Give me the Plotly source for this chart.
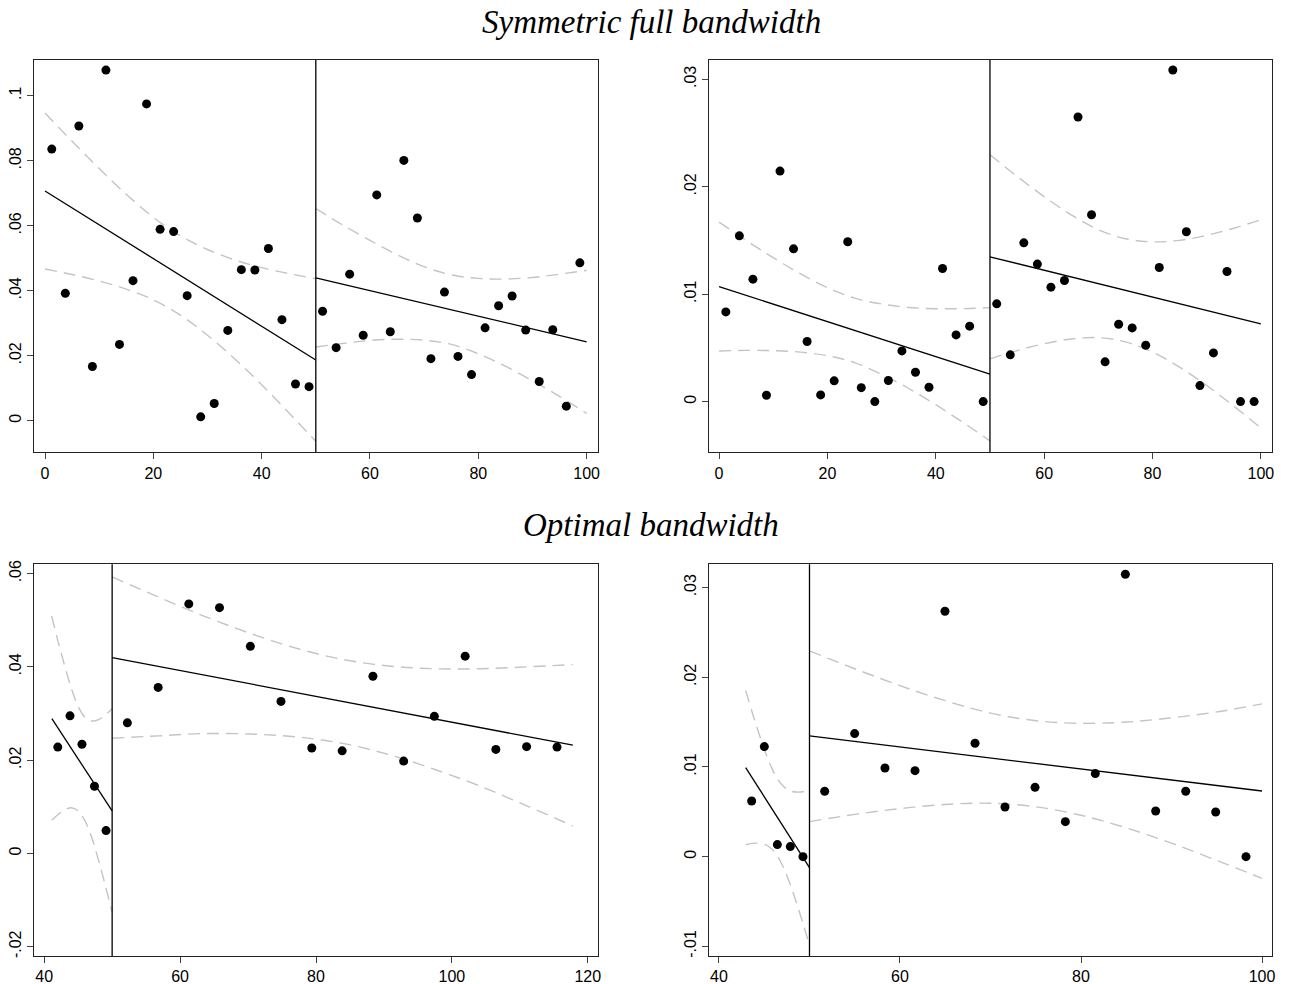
import plotly.graph_objects as go

W, H = 1289, 984

# ---------------- Top-left panel (Symmetric full bandwidth, outcome A) ----------------
tl_x_left = [1.25, 3.75, 6.25, 8.75, 11.25, 13.75, 16.25, 18.75, 21.25, 23.75,
             26.25, 28.75, 31.25, 33.75, 36.25, 38.75, 41.25, 43.75, 46.25, 48.75]
tl_y_left = [0.0836, 0.0392, 0.0907, 0.0167, 0.1079, 0.0235, 0.0431, 0.0975, 0.0589, 0.0582,
             0.0385, 0.0012, 0.0053, 0.0278, 0.0465, 0.0464, 0.0530, 0.0311, 0.0113, 0.0105]
tl_x_right = [51.25, 53.75, 56.25, 58.75, 61.25, 63.75, 66.25, 68.75, 71.25, 73.75,
              76.25, 78.75, 81.25, 83.75, 86.25, 88.75, 91.25, 93.75, 96.25, 98.75]
tl_y_right = [0.0337, 0.0225, 0.0451, 0.0263, 0.0695, 0.0274, 0.0801, 0.0624, 0.0191, 0.0396,
              0.0198, 0.0142, 0.0286, 0.0354, 0.0384, 0.0279, 0.0121, 0.0280, 0.0045, 0.0486]
tl_fit_x_left = [0, 50]
tl_fit_y_left = [0.0707, 0.0187]
tl_fit_x_right = [50, 100]
tl_fit_y_right = [0.0440, 0.0243]
tl_ci_x_left = [0, 5, 10, 15, 20, 25, 30, 35, 40, 45, 50]
tl_ci_up_left = [0.0947, 0.0860, 0.0776, 0.0697, 0.0626, 0.0569, 0.0527, 0.0495, 0.0471, 0.0453, 0.0437]
tl_ci_lo_left = [0.0467, 0.0450, 0.0430, 0.0405, 0.0372, 0.0325, 0.0263, 0.0191, 0.0111, 0.0025, -0.0063]
tl_ci_x_right = [50, 55, 60, 65, 70, 75, 80, 85, 90, 95, 100]
tl_ci_up_right = [0.0653, 0.0602, 0.0555, 0.0511, 0.0474, 0.0449, 0.0438, 0.0436, 0.0441, 0.0451, 0.0463]
tl_ci_lo_right = [0.0227, 0.0238, 0.0247, 0.0251, 0.0248, 0.0235, 0.0206, 0.0168, 0.0123, 0.0075, 0.0023]
tl_xticks = [0, 20, 40, 60, 80, 100]
tl_yticks = [0, 0.02, 0.04, 0.06, 0.08, 0.1]
tl_yticklabels = ["0", ".02", ".04", ".06", ".08", ".1"]

# ---------------- Top-right panel (Symmetric full bandwidth, outcome B) ----------------
tr_x_left = tl_x_left
tr_y_left = [0.00835, 0.01543, 0.0114, 0.00059, 0.02146, 0.01422, 0.00559, 0.00062, 0.00193, 0.01488,
             0.0013, 0.0, 0.00196, 0.00472, 0.00273, 0.00134, 0.01239, 0.00621, 0.00702, 0.0]
tr_x_right = tl_x_right
tr_y_right = [0.0091, 0.00435, 0.01478, 0.0128, 0.01065, 0.01127, 0.02649, 0.01739, 0.0037, 0.0072,
              0.00686, 0.00525, 0.01248, 0.03087, 0.01581, 0.00149, 0.00453, 0.01211, 0.0, 0.0]
tr_fit_x_left = [0, 50]
tr_fit_y_left = [0.01071, 0.00255]
tr_fit_x_right = [50, 100]
tr_fit_y_right = [0.01348, 0.00724]
tr_ci_x_left = [0, 5, 10, 15, 20, 25, 30, 35, 40, 45, 50]
tr_ci_up_left = [0.01671, 0.01501, 0.0134, 0.01191, 0.01061, 0.00963, 0.00909, 0.00876, 0.00865, 0.00865, 0.00875]
tr_ci_lo_left = [0.00471, 0.00477, 0.00474, 0.00461, 0.00427, 0.00363, 0.00253, 0.00122, -0.00029, -0.00193, -0.00365]
tr_ci_x_right = [50, 55, 60, 65, 70, 75, 80, 85, 90, 95, 100]
tr_ci_up_right = [0.02298, 0.02097, 0.01908, 0.01739, 0.01601, 0.01516, 0.01487, 0.01501, 0.01548, 0.01614, 0.01694]
tr_ci_lo_right = [0.00398, 0.00475, 0.00538, 0.00583, 0.00595, 0.00556, 0.00461, 0.00321, 0.0015, -0.00042, -0.00246]
tr_xticks = [0, 20, 40, 60, 80, 100]
tr_yticks = [0, 0.01, 0.02, 0.03]
tr_yticklabels = ["0", ".01", ".02", ".03"]

# ---------------- Bottom-left panel (Optimal bandwidth, outcome A) ----------------
bl_x_left = [42.0, 43.8, 45.56, 47.4, 49.1]
bl_y_left = [0.0228, 0.0295, 0.0234, 0.0144, 0.0049]
bl_x_right = [52.24, 56.77, 61.28, 65.8, 70.34, 74.85, 79.38, 83.85, 88.38, 92.9,
              97.42, 101.95, 106.47, 110.99, 115.47]
bl_y_right = [0.0280, 0.0356, 0.0535, 0.0527, 0.0444, 0.0326, 0.0226, 0.0220, 0.0380, 0.0198,
              0.0294, 0.0423, 0.0223, 0.0229, 0.0228]
bl_fit_x_left = [41.13, 50]
bl_fit_y_left = [0.0289, 0.0091]
bl_fit_x_right = [50, 117.8]
bl_fit_y_right = [0.0420, 0.0232]
bl_ci_x_left = [41.1, 42, 43, 44, 45, 46, 47, 48, 49, 50]
bl_ci_up_left = [0.0509, 0.0457, 0.0403, 0.0354, 0.0315, 0.0292, 0.0284, 0.0287, 0.0297, 0.0310]
bl_ci_lo_left = [0.0071, 0.0083, 0.0093, 0.0098, 0.0091, 0.0070, 0.0034, -0.0015, -0.0069, -0.0126]
bl_ci_x_right = [50, 56.8, 63.5, 70.3, 77.1, 83.9, 90.7, 97.5, 104.2, 111, 117.8]
bl_ci_up_right = [0.0593, 0.0550, 0.0509, 0.0472, 0.0440, 0.0416, 0.0402, 0.0396, 0.0396, 0.0400, 0.0405]
bl_ci_lo_right = [0.0247, 0.0252, 0.0257, 0.0256, 0.0250, 0.0236, 0.0212, 0.0180, 0.0144, 0.0102, 0.0059]
bl_xticks = [40, 60, 80, 100, 120]
bl_yticks = [-0.02, 0, 0.02, 0.04, 0.06]
bl_yticklabels = ["-.02", "0", ".02", ".04", ".06"]

# ---------------- Bottom-right panel (Optimal bandwidth, outcome B) ----------------
br_x_left = [43.61, 45.01, 46.45, 47.88, 49.28]
br_y_left = [0.00621, 0.01227, 0.00134, 0.00112, 0.0]
br_x_right = [51.68, 54.99, 58.34, 61.66, 64.97, 68.29, 71.6, 74.92, 78.27, 81.58,
              84.9, 88.25, 91.57, 94.88, 98.23]
br_y_right = [0.00729, 0.01372, 0.00989, 0.00959, 0.02736, 0.01264, 0.00554, 0.00773, 0.0039, 0.00926,
              0.03149, 0.00509, 0.00729, 0.00498, 0.0]
br_fit_x_left = [42.95, 50]
br_fit_y_left = [0.00993, -0.00123]
br_fit_x_right = [50, 100]
br_fit_y_right = [0.01346, 0.00732]
br_ci_x_left = [42.95, 43.65, 44.36, 45.06, 45.77, 46.47, 47.17, 47.88, 48.58, 49.28, 49.98]
br_ci_up_left = [0.01853, 0.01616, 0.0139, 0.01182, 0.01001, 0.00865, 0.00779, 0.00734, 0.0072, 0.00723, 0.00737]
br_ci_lo_left = [0.00133, 0.00148, 0.0015, 0.00136, 0.00091, 0.00005, -0.00131, -0.00312, -0.0052, -0.00745, -0.00983]
br_ci_x_right = [50, 55, 60, 65, 70, 75, 80, 85, 90, 95, 100]
br_ci_up_right = [0.02294, 0.02095, 0.01907, 0.01739, 0.01601, 0.01516, 0.01487, 0.01501, 0.01548, 0.01614, 0.01703]
br_ci_lo_right = [0.0039, 0.00471, 0.00536, 0.00582, 0.00595, 0.00556, 0.00461, 0.00321, 0.0015, -0.00042, -0.00242]
br_xticks = [40, 60, 80, 100]
br_yticks = [-0.01, 0, 0.01, 0.02, 0.03]
br_yticklabels = ["-.01", "0", ".01", ".02", ".03"]

cutoff = 50
titles = ["Symmetric full bandwidth", "Optimal bandwidth"]

# ---------------- Layout geometry (pixels -> paper) ----------------
def px_x(p):
    return p / W

def px_y(p):
    return 1 - p / H

panels = [
    dict(xdom=[px_x(34), px_x(598)], ydom=[px_y(452.3), px_y(60)],
         xr=[-2.03, 102.1], yr=[-0.0097, 0.111],
         xl=tl_x_left, yl=tl_y_left, xrt=tl_x_right, yrt=tl_y_right,
         fxl=tl_fit_x_left, fyl=tl_fit_y_left, fxr=tl_fit_x_right, fyr=tl_fit_y_right,
         cxl=tl_ci_x_left, cul=tl_ci_up_left, cll=tl_ci_lo_left,
         cxr=tl_ci_x_right, cur=tl_ci_up_right, clr=tl_ci_lo_right,
         xt=tl_xticks, yt=tl_yticks, ytl=tl_yticklabels),
    dict(xdom=[px_x(709.3), px_x(1271.7)], ydom=[px_y(452.3), px_y(60)],
         xr=[-1.8, 102.0], yr=[-0.00472, 0.0318],
         xl=tr_x_left, yl=tr_y_left, xrt=tr_x_right, yrt=tr_y_right,
         fxl=tr_fit_x_left, fyl=tr_fit_y_left, fxr=tr_fit_x_right, fyr=tr_fit_y_right,
         cxl=tr_ci_x_left, cul=tr_ci_up_left, cll=tr_ci_lo_left,
         cxr=tr_ci_x_right, cur=tr_ci_up_right, clr=tr_ci_lo_right,
         xt=tr_xticks, yt=tr_yticks, ytl=tr_yticklabels),
    dict(xdom=[px_x(34), px_x(598)], ydom=[px_y(956), px_y(564.3)],
         xr=[38.5, 121.5], yr=[-0.0220, 0.0620],
         xl=bl_x_left, yl=bl_y_left, xrt=bl_x_right, yrt=bl_y_right,
         fxl=bl_fit_x_left, fyl=bl_fit_y_left, fxr=bl_fit_x_right, fyr=bl_fit_y_right,
         cxl=bl_ci_x_left, cul=bl_ci_up_left, cll=bl_ci_lo_left,
         cxr=bl_ci_x_right, cur=bl_ci_up_right, clr=bl_ci_lo_right,
         xt=bl_xticks, yt=bl_yticks, ytl=bl_yticklabels),
    dict(xdom=[px_x(709.3), px_x(1271.7)], ydom=[px_y(956), px_y(564.3)],
         xr=[38.93, 101.07], yr=[-0.01108, 0.0326],
         xl=br_x_left, yl=br_y_left, xrt=br_x_right, yrt=br_y_right,
         fxl=br_fit_x_left, fyl=br_fit_y_left, fxr=br_fit_x_right, fyr=br_fit_y_right,
         cxl=br_ci_x_left, cul=br_ci_up_left, cll=br_ci_lo_left,
         cxr=br_ci_x_right, cur=br_ci_up_right, clr=br_ci_lo_right,
         xt=br_xticks, yt=br_yticks, ytl=br_yticklabels),
]

fig = go.Figure()
ci_style = dict(color="#c4c4c4", width=1.4, dash="12px,7px", shape="spline")
fit_style = dict(color="black", width=1.3)
tick_font = dict(family="Liberation Sans, Arial, sans-serif", size=16, color="black")

layout_axes = {}
shapes = []
for i, p in enumerate(panels):
    n = "" if i == 0 else str(i + 1)
    xa, ya = "x" + n, "y" + n
    for cx, cy in [(p["cxl"], p["cul"]), (p["cxl"], p["cll"]),
                   (p["cxr"], p["cur"]), (p["cxr"], p["clr"])]:
        fig.add_trace(go.Scatter(x=cx, y=cy, mode="lines", line=ci_style,
                                 xaxis=xa, yaxis=ya, showlegend=False, hoverinfo="skip"))
    for fx, fy in [(p["fxl"], p["fyl"]), (p["fxr"], p["fyr"])]:
        fig.add_trace(go.Scatter(x=fx, y=fy, mode="lines", line=fit_style,
                                 xaxis=xa, yaxis=ya, showlegend=False))
    fig.add_trace(go.Scatter(x=p["xl"] + p["xrt"], y=p["yl"] + p["yrt"], mode="markers",
                             marker=dict(color="black", size=9),
                             xaxis=xa, yaxis=ya, showlegend=False))
    layout_axes["xaxis" + n] = dict(
        domain=p["xdom"], range=p["xr"], anchor=ya, tickvals=p["xt"],
        ticktext=[str(v) for v in p["xt"]],
        showline=True, mirror=True, linecolor="#222", linewidth=1.2,
        ticks="outside", ticklen=6, tickwidth=1.2, tickcolor="#444",
        showgrid=False, zeroline=False, tickfont=tick_font, automargin=False)
    layout_axes["yaxis" + n] = dict(
        domain=p["ydom"], range=p["yr"], anchor=xa, tickvals=p["yt"], ticktext=p["ytl"],
        tickangle=-90,
        showline=True, mirror=True, linecolor="#222", linewidth=1.2,
        ticks="outside", ticklen=6, tickwidth=1.2, tickcolor="#444",
        showgrid=False, zeroline=False, tickfont=tick_font, automargin=False)
    shapes.append(dict(type="line", xref=xa, yref=ya + " domain", x0=cutoff, x1=cutoff,
                       y0=0, y1=1, line=dict(color="black", width=1.3)))

title_font = dict(family="Liberation Serif, Times New Roman, serif", size=33, color="black")
annotations = [
    dict(text="<i>" + titles[0] + "</i>", x=px_x(651), y=px_y(22), xref="paper", yref="paper",
         showarrow=False, font=title_font, xanchor="center", yanchor="middle"),
    dict(text="<i>" + titles[1] + "</i>", x=px_x(651), y=px_y(525), xref="paper", yref="paper",
         showarrow=False, font=title_font, xanchor="center", yanchor="middle"),
]

fig.update_layout(width=W, height=H, margin=dict(l=0, r=0, t=0, b=0, autoexpand=False),
                  plot_bgcolor="white", paper_bgcolor="white", template="none",
                  shapes=shapes, annotations=annotations, showlegend=False, **layout_axes)

fig.write_html("out.html", config={"displayModeBar": False},
               post_script="document.body.style.margin='0';document.body.style.overflow='hidden';")
